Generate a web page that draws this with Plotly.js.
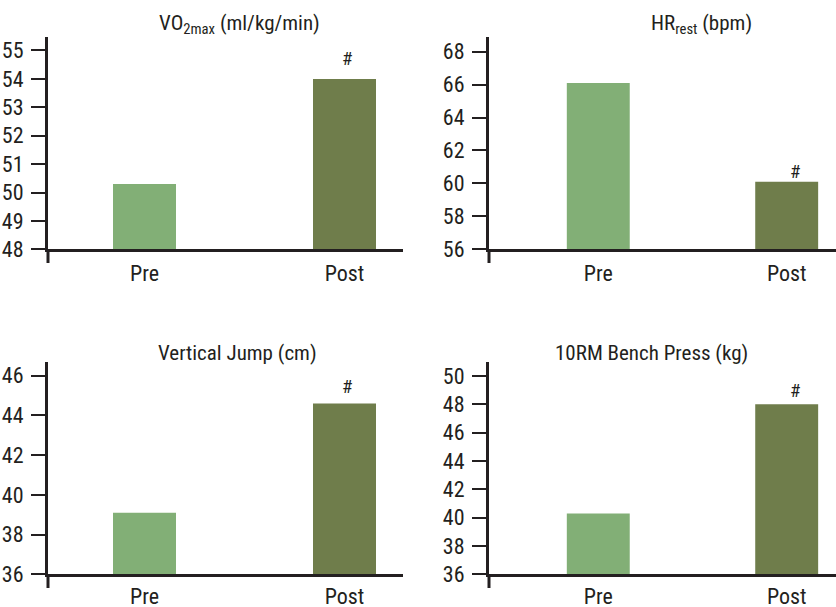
<!DOCTYPE html>
<html>
<head>
<meta charset="utf-8">
<script src="https://cdn.plot.ly/plotly-3.0.1.min.js"></script>
<style>html,body{margin:0;padding:0;background:#fff;}#chart{width:836px;height:607px;}</style>
</head>
<body>
<div id="chart"></div>
<script>
// ---- data ----
const categories = ['Pre', 'Post'];
const vo2max = [50.3, 54.0];
const hrRest = [66.1, 60.1];
const verticalJump = [39.1, 44.6];
const benchPress = [40.3, 48.0];
const panelTitles = ['VO<sub>2max</sub> (ml/kg/min)', 'HR<sub>rest</sub> (bpm)', 'Vertical Jump (cm)', '10RM Bench Press (kg)'];
const sigMark = '#';

// ---- style ----
const W = 836, H = 607;
const FONT = '"Liberation Sans Narrow", "Arial Narrow", "Roboto Condensed", Roboto, sans-serif';
const INK = '#231F20';
const barColors = ['#82AF76', '#6F7D4B'];
const px = v => v / W;
const py = v => 1 - v / H;

// axX: pixel x of y-axis; axY: pixel y of x-axis; top: pixel y of y-axis top; ext: pixel y of y-axis bottom end
const panels = [
  {vals: vo2max, xd: [px(48), px(403)], xr: [-0.4825, 1.2925], top: 37, axY: 249.3, ext: 263, yr: [48, 55.475], dt: 1, t0: 48, axX: 48, bw: 0.315, sy: 20, sx: 2, tx: px(239), ty: py(25), so: 2},
  {vals: hrRest, xd: [px(489), 1], xr: [-0.58, 1.2617], top: 37, axY: 249.3, ext: 263, yr: [56, 68.89], dt: 2, t0: 56, axX: 489, bw: 0.334, sy: 10, sx: 8, tx: px(701), ty: py(25), so: 2},
  {vals: verticalJump, xd: [px(48), px(403)], xr: [-0.4825, 1.2925], top: 361.7, axY: 574.3, ext: 588, yr: [36, 46.70], dt: 2, t0: 36, axX: 48, bw: 0.315, sy: 17, sx: 2, tx: px(237), ty: py(353), so: 0},
  {vals: benchPress, xd: [px(489), 1], xr: [-0.58, 1.2617], top: 361.7, axY: 574.3, ext: 588, yr: [36, 51.01], dt: 2, t0: 36, axX: 489, bw: 0.334, sy: 14, sx: 8, tx: px(651), ty: py(353), so: 0}
];

const data = [];
const layout = {
  width: W, height: H,
  margin: {l: 0, r: 0, t: 0, b: 0},
  paper_bgcolor: '#fff', plot_bgcolor: 'rgba(0,0,0,0)',
  showlegend: false,
  font: {family: FONT, color: INK, size: 22},
  annotations: [],
  shapes: []
};

panels.forEach((p, i) => {
  const n = i === 0 ? '' : String(i + 1);
  data.push({
    type: 'bar', x: categories, y: p.vals, width: p.bw,
    base: 0,
    xaxis: 'x' + n, yaxis: 'y' + n,
    marker: {color: barColors, line: {width: 0}},
    hoverinfo: 'skip'
  });
  layout['xaxis' + n] = {
    domain: p.xd, range: p.xr, type: 'category',
    anchor: 'y' + n,
    showline: true, linewidth: 3, linecolor: INK,
    ticks: '', showgrid: false, zeroline: false,
    tickfont: {family: FONT, size: 22, color: INK},
    ticklabelstandoff: p.so, automargin: false, fixedrange: true
  };
  layout['yaxis' + n] = {
    domain: [py(p.axY), py(p.top)], range: p.yr, anchor: 'x' + n,
    showline: true, linewidth: 3, linecolor: INK,
    ticks: 'outside', ticklen: 14, tickwidth: 2, tickcolor: INK,
    dtick: p.dt, tick0: p.t0,
    showgrid: false, zeroline: false,
    tickfont: {family: FONT, size: 22, color: INK},
    ticklabelstandoff: 3, automargin: false, fixedrange: true
  };
  // y-axis line continues a little below the x-axis
  layout.shapes.push({
    type: 'line', xref: 'paper', yref: 'paper',
    x0: px(p.axX), x1: px(p.axX), y0: py(p.axY), y1: py(p.ext),
    line: {color: INK, width: 3}
  });
  layout.annotations.push({
    xref: 'paper', yref: 'paper', x: p.tx, y: p.ty,
    xanchor: 'center', yanchor: 'middle', showarrow: false,
    text: panelTitles[i], font: {family: FONT, size: 21, color: INK}
  });
  layout.annotations.push({
    xref: 'x' + n, yref: 'y' + n, x: categories[1], y: p.vals[1],
    xanchor: 'center', yanchor: 'middle', yshift: p.sy, xshift: p.sx,
    showarrow: false, text: sigMark,
    font: {family: FONT, size: 19, color: INK}
  });
});

Plotly.newPlot('chart', data, layout, {staticPlot: true, displayModeBar: false});
</script>
</body>
</html>
